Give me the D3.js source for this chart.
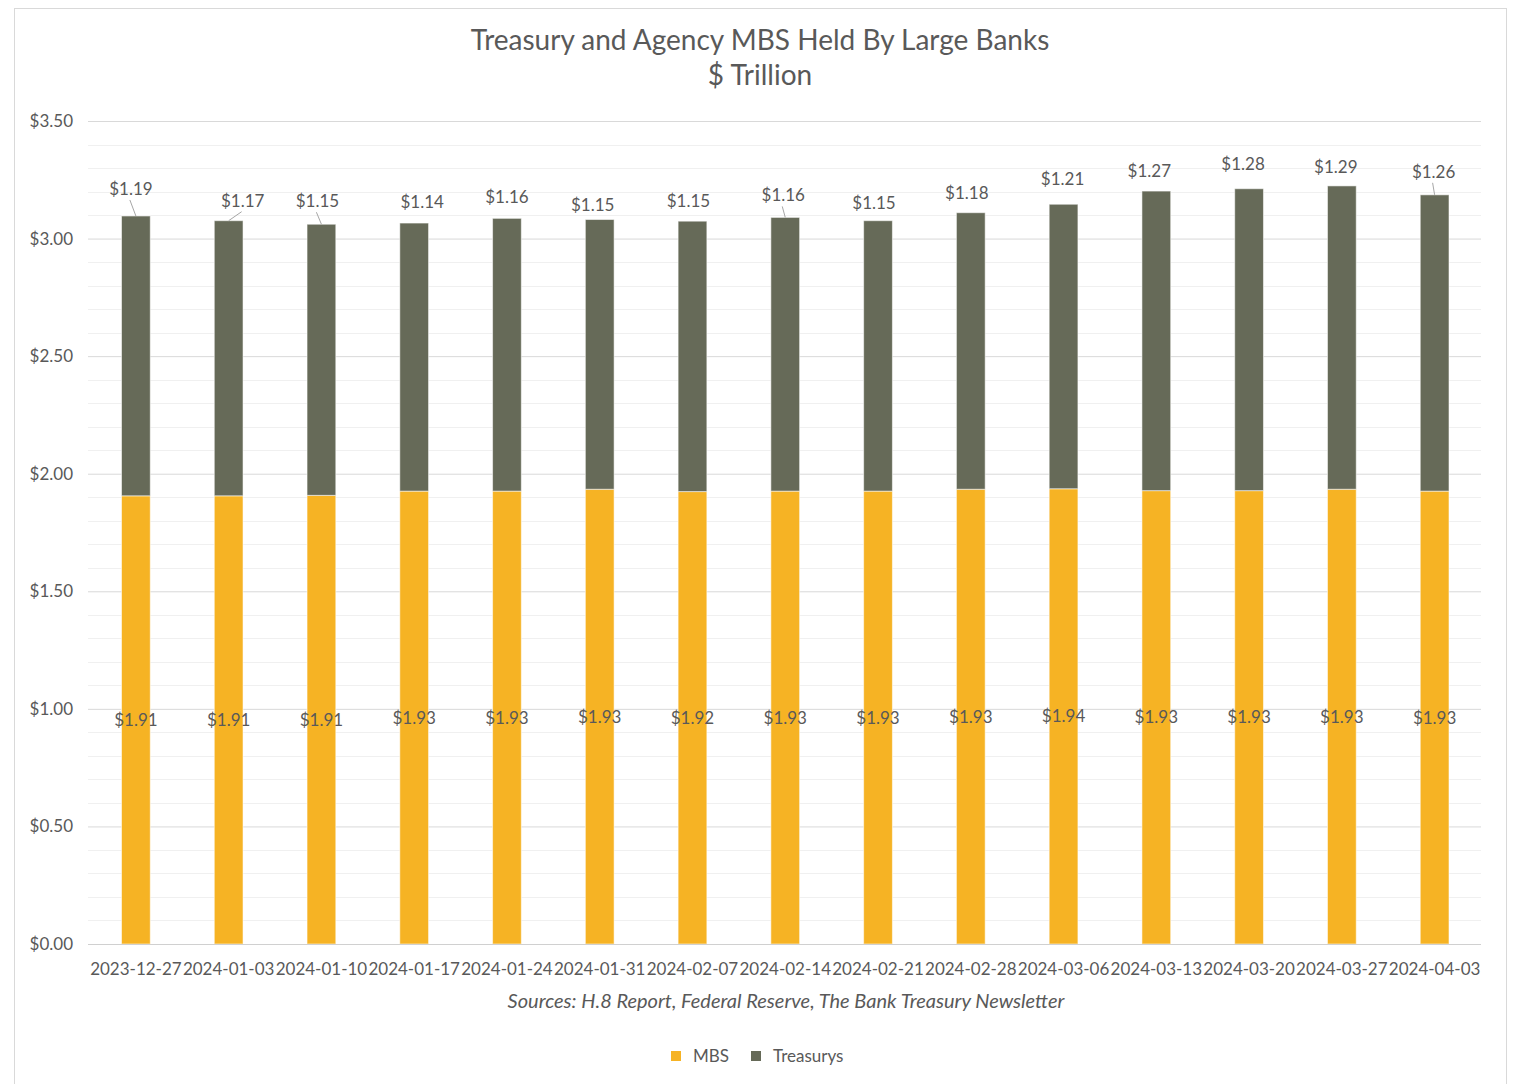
<!DOCTYPE html>
<html>
<head>
<meta charset="utf-8">
<script src="https://cdn.jsdelivr.net/npm/d3@7"></script>
<style>
  body { margin: 0; background: #fff; }
  text { font-family: Lato, "Open Sans", sans-serif; fill: #595959; }
</style>
</head>
<body>
<script>
// weekly dates, H.8 large banks
var dates = ['2023-12-27', '2024-01-03', '2024-01-10', '2024-01-17', '2024-01-24',
             '2024-01-31', '2024-02-07', '2024-02-14', '2024-02-21', '2024-02-28',
             '2024-03-06', '2024-03-13', '2024-03-20', '2024-03-27', '2024-04-03'];
var mbs = [1.906, 1.906, 1.908, 1.926, 1.926, 1.934, 1.924, 1.926, 1.926, 1.934,
           1.936, 1.928, 1.928, 1.934, 1.926];
var treasurys = [1.19, 1.17, 1.153, 1.14, 1.16, 1.147, 1.15, 1.164, 1.15, 1.176,
                 1.21, 1.274, 1.284, 1.29, 1.26];
var seriesNames = ['MBS', 'Treasurys'];
var yTicks = [0, 0.5, 1, 1.5, 2, 2.5, 3, 3.5];

// dragged label offsets (px) for the treasury totals, like in the excel original
var labelNudge = [[-5, -6], [14, 1], [-4, -2], [8, 0], [0, 0], [-7, 6], [-4, 1], [-2, -1],
                  [-4, 3], [-4, 1], [-1, -4], [-7, 1], [-6, -4], [-6, 2], [-1, -2]];
var leaderIdx = [0, 1, 2, 7, 14];

var colors = { MBS: '#f6b324', Treasurys: '#666a58' };

var W = 1513, H = 1084;
var margin = { top: 121, right: 32, bottom: 140, left: 88 };

var svg = d3.select('body').append('svg')
    .attr('width', W)
    .attr('height', H);

// chart frame
svg.append('rect')
    .attr('x', 14.5).attr('y', 8.5)
    .attr('width', 1492).attr('height', 1090)
    .attr('fill', '#fff')
    .attr('stroke', '#d9d9d9');

var x = d3.scaleBand()
    .domain(dates)
    .range([margin.left + 1.5, W - margin.right])
    .paddingInner(0.69)
    .paddingOuter(0.345);

var y = d3.scaleLinear()
    .domain([0, 3.5])
    .range([H - margin.bottom, margin.top]);

// minor grid every 0.1
svg.append('g')
    .selectAll('line')
    .data(d3.range(0, 36).map(function(i) { return i / 10; }).filter(function(v) { return Math.round(v * 10) % 5 !== 0; }))
    .join('line')
    .attr('x1', margin.left).attr('x2', W - margin.right)
    .attr('y1', function(d) { return Math.round(y(d)) + 0.5; })
    .attr('y2', function(d) { return Math.round(y(d)) + 0.5; })
    .attr('stroke', '#f0f0f0');

var yAxis = d3.axisLeft(y)
    .tickValues(yTicks)
    .tickSize(-(W - margin.left - margin.right))
    .tickPadding(15)
    .tickFormat(function(d) { return '$' + d3.format('.2f')(d); });

svg.append('g')
    .attr('transform', 'translate(' + margin.left + ',0)')
    .call(yAxis)
    .call(function(g) { g.select('.domain').remove(); })
    .call(function(g) {
      g.selectAll('line').attr('stroke', '#d9d9d9');
      g.selectAll('text').attr('font-size', 17).attr('fill', '#595959');
    });

var stacked = d3.stack().keys(seriesNames)(dates.map(function(d, i) {
  return { date: d, MBS: mbs[i], Treasurys: treasurys[i] };
}));

svg.append('g')
    .selectAll('g')
    .data(stacked)
    .join('g')
    .attr('fill', function(s) { return colors[s.key]; })
    .selectAll('rect')
    .data(function(s) { return s; })
    .join('rect')
    .attr('x', function(d) { return x(d.data.date); })
    .attr('width', x.bandwidth())
    .attr('y', function(d) { return y(d[1]); })
    .attr('height', function(d) { return y(d[0]) - y(d[1]); })
    .attr('stroke', 'rgba(255,255,255,0.55)')
    .attr('stroke-width', 1);

// baseline
svg.append('line')
    .attr('x1', margin.left).attr('x2', W - margin.right)
    .attr('y1', Math.round(y(0)) + 0.5).attr('y2', Math.round(y(0)) + 0.5)
    .attr('stroke', '#d0d0d0');

var fmt = function(v) { return '$' + v.toFixed(2); };

// MBS labels centered in bar
svg.append('g')
    .selectAll('text')
    .data(dates)
    .join('text')
    .attr('x', function(d) { return x(d) + x.bandwidth() / 2; })
    .attr('y', function(d, i) { return y(mbs[i] / 2); })
    .attr('dy', '0.35em')
    .attr('text-anchor', 'middle')
    .attr('font-size', 17)
    .attr('fill', '#404040')
    .text(function(d, i) { return fmt(mbs[i]); });

// Treasury labels above the stack
var cx = function(d) { return x(d) + x.bandwidth() / 2; };
var labelX = function(d, i) { return cx(d) + labelNudge[i][0]; };
var labelY = function(d, i) { return y(mbs[i] + treasurys[i]) - 15 + labelNudge[i][1]; };

var tl = svg.append('g')
    .selectAll('g')
    .data(dates)
    .join('g');

tl.append('text')
    .attr('x', labelX)
    .attr('y', labelY)
    .attr('text-anchor', 'middle')
    .attr('font-size', 17)
    .attr('fill', '#404040')
    .text(function(d, i) { return fmt(treasurys[i]); });

// leader lines where the label was pulled away
tl.filter(function(d, i) { return leaderIdx.indexOf(i) >= 0; })
    .append('line')
    .attr('x1', function(d) { var i = dates.indexOf(d); return labelX(d, i) - 1; })
    .attr('y1', function(d) { var i = dates.indexOf(d); return labelY(d, i) + 5; })
    .attr('x2', cx)
    .attr('y2', function(d) { var i = dates.indexOf(d); return y(mbs[i] + treasurys[i]); })
    .attr('stroke', '#a6a6a6');

// x axis labels
svg.append('g')
    .selectAll('text')
    .data(dates)
    .join('text')
    .attr('x', cx)
    .attr('y', y(0) + 31)
    .attr('text-anchor', 'middle')
    .attr('font-size', 17)
    .text(function(d) { return d; });

// titles
svg.append('text')
    .attr('x', 760).attr('y', 50)
    .attr('text-anchor', 'middle')
    .attr('font-size', 28)
    .text('Treasury and Agency MBS Held By Large Banks');
svg.append('text')
    .attr('x', 760).attr('y', 85)
    .attr('text-anchor', 'middle')
    .attr('font-size', 28)
    .text('$ Trillion');

svg.append('text')
    .attr('x', 786).attr('y', 1008)
    .attr('text-anchor', 'middle')
    .attr('font-size', 20)
    .attr('font-style', 'italic')
    .text('Sources: H.8 Report, Federal Reserve, The Bank Treasury Newsletter');

// legend
var legend = svg.append('g')
    .selectAll('g')
    .data(seriesNames)
    .join('g')
    .attr('transform', function(d, i) { return 'translate(' + (671 + i * 80) + ',1051)'; });
legend.append('rect')
    .attr('width', 10).attr('height', 10)
    .attr('fill', function(d) { return colors[d]; });
legend.append('text')
    .attr('x', 22).attr('y', 5)
    .attr('dy', '0.35em')
    .attr('font-size', 17)
    .text(function(d) { return d; });
</script>
</body>
</html>
